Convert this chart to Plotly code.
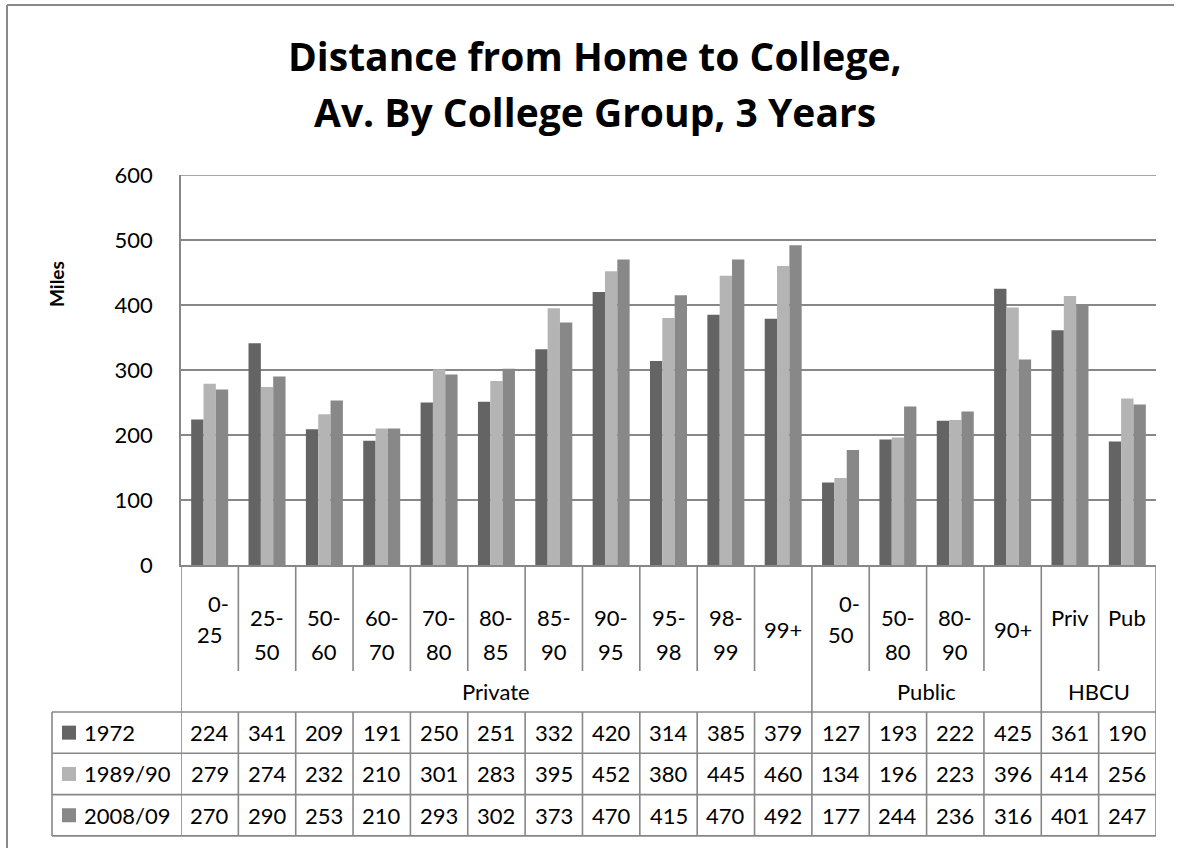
import plotly.graph_objects as go

# ---- data -------------------------------------------------------------
categories = ["0-25", "25-50", "50-60", "60-70", "70-80", "80-85", "85-90",
              "90-95", "95-98", "98-99", "99+", "0-50", "50-80", "80-90",
              "90+", "Priv", "Pub"]
group_names = ["Private", "Public", "HBCU"]
group_sizes = [11, 4, 2]
series_names = ["1972", "1989/90", "2008/09"]
miles_1972 = [224, 341, 209, 191, 250, 251, 332, 420, 314, 385, 379,
              127, 193, 222, 425, 361, 190]
miles_1989 = [279, 274, 232, 210, 301, 283, 395, 452, 380, 445, 460,
              134, 196, 223, 396, 414, 256]
miles_2008 = [270, 290, 253, 210, 293, 302, 373, 470, 415, 470, 492,
              177, 244, 236, 316, 401, 247]
y_ticks = [0, 100, 200, 300, 400, 500, 600]

# ---- styling ----------------------------------------------------------
W, H = 1178, 848
FONT = "Lato, 'Open Sans', sans-serif"
TITLE_FONT = "'Open Sans', 'Noto Sans', sans-serif"
colors = ["#646464", "#b4b4b4", "#888888"]
LINE = "#878787"
LW = 1.6

def px(x):
    return x / W

def py(y):
    return 1 - y / H

PLOT_L, PLOT_R, PLOT_T, PLOT_B = 181, 1156, 175, 565
LABEL_SEP_B = 671     # lower end of the per-category separators
TABLE_T = 712
ROW_H = 41.3
TABLE_L = 52
TABLE_B = TABLE_T + 3 * ROW_H

series = [miles_1972, miles_1989, miles_2008]
n = len(categories)
idx = list(range(n))

fig = go.Figure()
for name, vals, col in zip(series_names, series, colors):
    fig.add_trace(go.Bar(x=idx, y=vals, name=name, marker_color=col,
                         marker_line_width=0, showlegend=False))

shapes = []
annotations = []

def hline(x0, x1, y, color=LINE, width=LW):
    shapes.append(dict(type="line", xref="paper", yref="paper",
                       x0=x0, x1=x1, y0=py(y), y1=py(y),
                       line=dict(color=color, width=width)))

def vline(x, y0, y1, xref="x", color=LINE, width=LW):
    shapes.append(dict(type="line", xref=xref, yref="paper",
                       x0=x, x1=x, y0=py(y0), y1=py(y1),
                       line=dict(color=color, width=width)))

# outer chart frame (left and top edges)
vline(px(7), 5, H, xref="paper", color="#8a8a8a", width=2)
hline(px(7), px(1174), 5, color="#8a8a8a", width=2)

# top gridline of the value axis
shapes.append(dict(type="line", xref="paper", yref="y",
                   x0=px(PLOT_L), x1=px(PLOT_R),
                   y0=y_ticks[-1], y1=y_ticks[-1],
                   line=dict(color=LINE, width=LW)))

# category labels under the axis
for i, cat in enumerate(categories):
    if "-" in cat:
        a, b = cat.split("-")
        if a == "0":
            lines = [(a + "-", 603, 9), (b, 634, 0)]
        else:
            lines = [(a + "-", 617, 0), (b, 651, 0)]
    elif cat.endswith("+"):
        lines = [(cat, 629, 0)]
    else:
        lines = [(cat, 617, 0)]
    for txt, yy, xs in lines:
        annotations.append(dict(x=i, xref="x", y=py(yy), yref="paper",
                                text=txt, showarrow=False, xshift=xs,
                                xanchor="center", yanchor="middle",
                                font=dict(family=FONT, size=22, color="black")))

# group labels
start = 0
group_edges = [-0.5]
for g, size in zip(group_names, group_sizes):
    center = start + (size - 1) / 2
    annotations.append(dict(x=center, xref="x", y=py(691), yref="paper",
                            text=g, showarrow=False, xanchor="center",
                            yanchor="middle",
                            font=dict(family=FONT, size=22, color="black")))
    start += size
    group_edges.append(start - 0.5)

# separators: group edges run through the label area, category edges stop short
for k in range(n + 1):
    xe = k - 0.5
    if xe in group_edges:
        vline(xe, PLOT_B, TABLE_B)
    else:
        vline(xe, PLOT_B, LABEL_SEP_B)
        vline(xe, TABLE_T, TABLE_B)

# table left edge and horizontal rules
vline(px(TABLE_L), TABLE_T, TABLE_B, xref="paper")
for r in range(4):
    hline(px(TABLE_L), px(PLOT_R), TABLE_T + r * ROW_H)

# table rows: legend key, series name and values
for r, (name, vals, col) in enumerate(zip(series_names, series, colors)):
    yc = TABLE_T + r * ROW_H + ROW_H / 2
    shapes.append(dict(type="rect", xref="paper", yref="paper",
                       x0=px(62), x1=px(76), y0=py(yc + 7), y1=py(yc - 7),
                       fillcolor=col, line=dict(width=0)))
    annotations.append(dict(x=px(82), xref="paper", y=py(yc), yref="paper",
                            text=name, showarrow=False, xanchor="left",
                            yanchor="middle",
                            font=dict(family=FONT, size=22, color="black")))
    for i, v in enumerate(vals):
        annotations.append(dict(x=i, xref="x", y=py(yc), yref="paper",
                                text=str(v), showarrow=False,
                                xanchor="center", yanchor="middle",
                                font=dict(family=FONT, size=22, color="black")))

# title
for txt, yy in [("Distance from Home to College,", 56),
                ("Av. By College Group, 3 Years", 112)]:
    annotations.append(dict(x=px(595), xref="paper", y=py(yy), yref="paper",
                            text="<b>" + txt + "</b>", showarrow=False,
                            xanchor="center", yanchor="middle",
                            font=dict(family=TITLE_FONT, size=39,
                                      color="black")))

# y-axis title
annotations.append(dict(x=px(56), xref="paper", y=py(284), yref="paper",
                        text="<b>Miles</b>", showarrow=False, textangle=-90,
                        xanchor="center", yanchor="middle",
                        font=dict(family=FONT, size=19, color="black")))

fig.update_layout(
    width=W, height=H,
    margin=dict(l=0, r=0, t=0, b=0, autoexpand=False),
    paper_bgcolor="white", plot_bgcolor="white",
    barmode="group", bargap=0.355, bargroupgap=0,
    xaxis=dict(domain=[px(PLOT_L), px(PLOT_R)], range=[-0.5, n - 0.5],
               showticklabels=False, showgrid=False, zeroline=False,
               showline=True, linecolor=LINE, linewidth=LW, ticks="",
               automargin=False),
    yaxis=dict(domain=[py(PLOT_B), py(PLOT_T)], range=[0, 600],
               tickvals=y_ticks, showgrid=True, gridcolor=LINE, gridwidth=LW,
               zeroline=False, showline=True, linecolor=LINE, linewidth=LW,
               ticks="", ticklabelstandoff=22, automargin=False,
               tickfont=dict(family=FONT, size=22, color="black")),
    shapes=shapes,
    annotations=annotations,
    font=dict(family=FONT),
)

fig.write_html("out.html")
